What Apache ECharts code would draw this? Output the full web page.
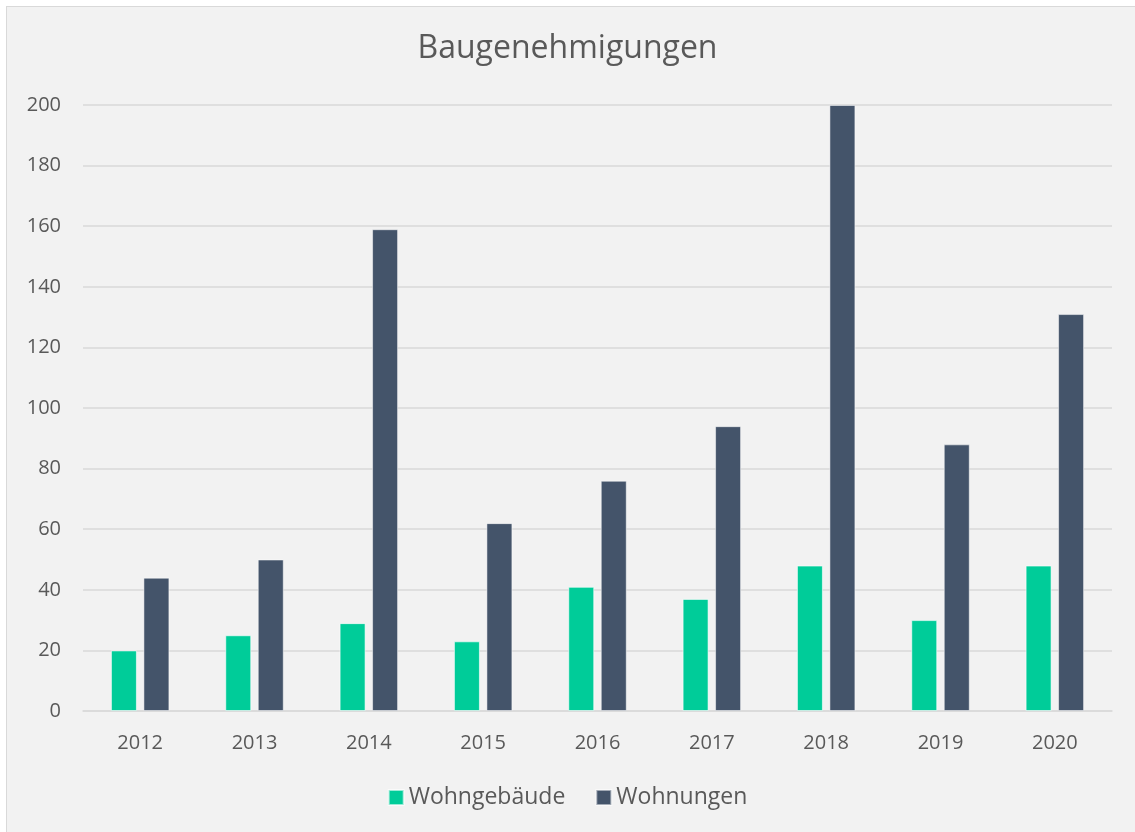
<!DOCTYPE html>
<html>
<head>
<meta charset="utf-8">
<title>Baugenehmigungen</title>
<script src="https://cdn.jsdelivr.net/npm/echarts@6/dist/echarts.min.js"></script>
<style>
  html, body { margin: 0; padding: 0; background: #ffffff; }
  #box {
    position: absolute; left: 6px; top: 6px;
    width: 1135px; height: 832px;
    background: #F2F2F2; border: 1px solid #D9D9D9;
  }
  #chart { position: absolute; left: -7px; top: -7px; width: 1135px; height: 832px; }
</style>
</head>
<body>
<div id="box"><div id="chart"></div></div>
<script>
const years = ['2012', '2013', '2014', '2015', '2016', '2017', '2018', '2019', '2020']
const wohngebaeude = [20, 25, 29, 23, 41, 37, 48, 30, 48]
const wohnungen = [44, 50, 159, 62, 76, 94, 200, 88, 131]
const yTicks = [0, 20, 40, 60, 80, 100, 120, 140, 160, 180, 200]

const font = 'Open Sans'
const textColor = '#595959'

const chart = echarts.init(document.getElementById('chart'))
chart.setOption({
  animation: false,
  title: {
    text: 'Baugenehmigungen',
    left: 'center',
    top: 28,
    textStyle: { fontFamily: font, fontSize: 32, fontWeight: 'normal', color: textColor }
  },
  legend: {
    bottom: 18,
    left: 'center',
    itemWidth: 15,
    itemHeight: 15,
    itemGap: 30,
    icon: 'rect',
    textStyle: { fontFamily: font, fontSize: 23, color: textColor }
  },
  grid: { left: 83, right: 23, top: 105, bottom: 121 },
  xAxis: {
    type: 'category',
    data: years,
    axisTick: { show: false },
    axisLine: { lineStyle: { color: '#D9D9D9', width: 1.5 } },
    axisLabel: { fontFamily: font, fontSize: 20, color: textColor, margin: 22 }
  },
  yAxis: {
    type: 'value',
    min: yTicks[0],
    max: yTicks[yTicks.length - 1],
    interval: 20,
    axisLine: { show: false },
    axisTick: { show: false },
    splitLine: { lineStyle: { color: '#D9D9D9', width: 1.5 } },
    axisLabel: { fontFamily: font, fontSize: 20, color: textColor, margin: 22 }
  },
  series: [
    {
      name: 'Wohngebäude',
      type: 'bar',
      data: wohngebaeude,
      barWidth: 26,
      barGap: '25%',
      itemStyle: { color: '#00CC99', borderColor: 'rgba(255,255,255,0.6)', borderWidth: 1 }
    },
    {
      name: 'Wohnungen',
      type: 'bar',
      data: wohnungen,
      barWidth: 26,
      barGap: '25%',
      itemStyle: { color: '#44546A', borderColor: 'rgba(255,255,255,0.5)', borderWidth: 1 }
    }
  ]
})
</script>
</body>
</html>
